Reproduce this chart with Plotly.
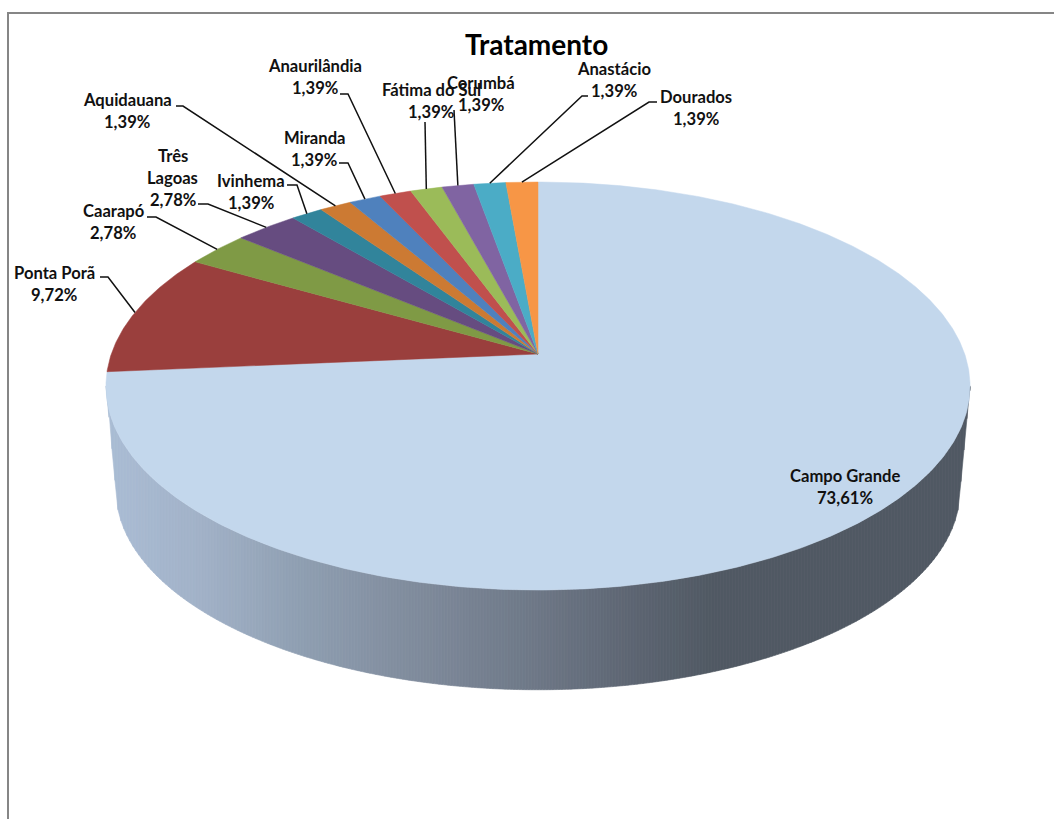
import math
import numpy as np
import plotly.graph_objects as go

# ---- data ----
categories = ["Campo Grande", "Ponta Porã", "Caarapó", "Três Lagoas", "Ivinhema", "Aquidauana",
              "Miranda", "Anaurilândia", "Fátima do Sul", "Corumbá", "Anastácio", "Dourados"]
values = [73.61, 9.72, 2.78, 2.78, 1.39, 1.39, 1.39, 1.39, 1.39, 1.39, 1.39, 1.39]
value_labels = ["73,61%", "9,72%", "2,78%", "2,78%", "1,39%", "1,39%",
                "1,39%", "1,39%", "1,39%", "1,39%", "1,39%", "1,39%"]
slice_colors = ["#C3D7EC", "#9A3F3D", "#7F9A45", "#664C80", "#31849B", "#CC7A33",
                "#4F81BD", "#C0504D", "#9BBB59", "#8064A2", "#4BACC6", "#F79646"]
title_text = "Tratamento"

# ---- layout: projection of the disc on the page (pixels) ----
W, H = 1054, 819
FONT = "Lato, Carlito, Calibri, sans-serif"
TOP = dict(cx=538, cy=354, a=426.7, b=199, k=-0.157)
BOT = dict(cx=538, cy=459, a=417, b=195, k=-0.155)

# label: (centre x, first line y, leader elbow points)
label_layout = {
    "Campo Grande": (845, 476, None),
    "Ponta Porã": (54, 273, [(100, 277), (108, 277)]),
    "Caarapó": (113, 211, [(147, 217), (156, 217)]),
    "Três Lagoas": (172.5, 156, [(198, 204), (208, 204)]),
    "Ivinhema": (251, 181, [(287, 185), (297, 185)]),
    "Aquidauana": (127, 100, [(176, 106), (183, 106)]),
    "Miranda": (314, 138, [(339, 163), (348, 163)]),
    "Anaurilândia": (315, 66, [(340, 94), (348, 94)]),
    "Fátima do Sul": (431, 90, [(425, 122)]),
    "Corumbá": (481, 83, [(454, 110)]),
    "Anastácio": (613.5, 69, [(588, 96), (582, 96)]),
    "Dourados": (696, 97, [(657, 102), (649, 102)]),
}
side_stops = [(105, (170, 189, 213)), (200, (162, 178, 200)), (300, (143, 159, 178)),
              (400, (130, 142, 159)), (540, (109, 119, 134)), (640, (92, 100, 113)),
              (715, (80, 89, 99)), (975, (80, 89, 99))]


def project(deg, p):
    """Clockwise angle from 12 o'clock to a page position, with perspective."""
    u = math.sin(math.radians(deg))
    v = -math.cos(math.radians(deg))
    d = 1 + p["k"] * v
    return p["cx"] + p["a"] * u / d, p["cy"] + p["b"] * v / d


def side_color(x):
    for (x0, c0), (x1, c1) in zip(side_stops, side_stops[1:]):
        if x <= x1:
            f = max(0, (x - x0) / (x1 - x0))
            return "rgb(%d,%d,%d)" % tuple(round(a + (b - a) * f) for a, b in zip(c0, c1))
    return "rgb(%d,%d,%d)" % side_stops[-1][1]


fig = go.Figure()


def poly(xs, ys, color, lw=0.8):
    fig.add_trace(go.Scatter(x=xs, y=ys, mode="lines", fill="toself", fillcolor=color,
                             line=dict(color=color, width=lw), hoverinfo="skip", showlegend=False))


# outer wall: vertical columns between the upper rim and the lower rim, shaded by x
rim_deg = np.arange(261.0, 98.5, -0.5)
top_rim = np.array([project(d, TOP) for d in rim_deg])
bot_rim = np.array([project(d, BOT) for d in rim_deg])
low_x = np.concatenate([top_rim[:1, 0], bot_rim[:, 0], top_rim[-1:, 0]])
low_y = np.concatenate([top_rim[:1, 1], bot_rim[:, 1], top_rim[-1:, 1]])
edges = np.arange(top_rim[0, 0], top_rim[-1, 0] + 3, 3.0)
edges[-1] = top_rim[-1, 0]
for x0, x1 in zip(edges, edges[1:]):
    xs = [x0, x1]
    yt = np.interp(xs, top_rim[:, 0], top_rim[:, 1])
    yb = np.interp(xs, low_x, low_y)
    poly([x0, x1, x1, x0, x0], [yt[0], yt[1], yb[1], yb[0], yt[0]], side_color((x0 + x1) / 2), 0.6)

# top face: one wedge per category, computed from the values
total = sum(values)
start = 0.0
mid_angles = []
for val, col in zip(values, slice_colors):
    sweep = val / total * 360
    n = max(3, int(sweep * 2))
    arc = [project(start + sweep * i / n, TOP) for i in range(n + 1)]
    xs = [TOP["cx"]] + [p[0] for p in arc] + [TOP["cx"]]
    ys = [TOP["cy"]] + [p[1] for p in arc] + [TOP["cy"]]
    poly(xs, ys, col, 0.5)
    mid_angles.append(start + sweep / 2)
    start += sweep

# leaders
for name, mid in zip(categories, mid_angles):
    elbow = label_layout[name][2]
    if not elbow:
        continue
    ex, ey = project(mid, TOP)
    fig.add_trace(go.Scatter(x=[p[0] for p in elbow] + [ex], y=[p[1] for p in elbow] + [ey],
                             mode="lines", line=dict(color="#111111", width=1.5),
                             hoverinfo="skip", showlegend=False))

# labels
for name, pct in zip(categories, value_labels):
    cx, y0, _ = label_layout[name]
    lines = ["Três", "Lagoas", pct] if name == "Três Lagoas" else [name, pct]
    for i, line in enumerate(lines):
        fig.add_annotation(x=cx, y=y0 + 22 * i, text="<b>%s</b>" % line, showarrow=False,
                           xanchor="center", yanchor="middle",
                           font=dict(family=FONT, size=16.6, color="#111111"))

fig.add_annotation(x=536.5, y=44, text="<b>%s</b>" % title_text, showarrow=False, xanchor="center",
                   yanchor="middle", font=dict(family=FONT, size=28, color="#000000"))

# chart-area frame (only left and top edges are in view)
fig.add_trace(go.Scatter(x=[8, 8, W], y=[H, 13, 13], mode="lines",
                         line=dict(color="#868686", width=2), hoverinfo="skip", showlegend=False))

fig.update_layout(width=W, height=H, margin=dict(l=0, r=0, t=0, b=0), autosize=False,
                  paper_bgcolor="white", plot_bgcolor="white", showlegend=False,
                  xaxis=dict(range=[0, W], visible=False, fixedrange=True),
                  yaxis=dict(range=[H, 0], visible=False, fixedrange=True))
fig.write_html("out.html", config={"displayModeBar": False},
               post_script="document.body.style.margin='0';document.body.style.overflow='hidden';")
